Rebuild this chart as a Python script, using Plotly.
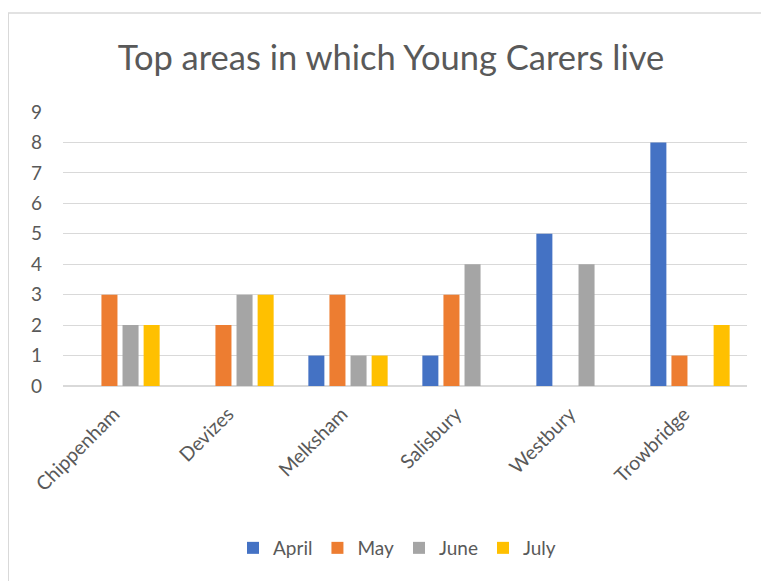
import plotly.graph_objects as go

categories = ["Chippenham", "Devizes", "Melksham", "Salisbury", "Westbury", "Trowbridge"]
april = [0, 0, 1, 1, 5, 8]
may = [3, 2, 3, 3, 0, 1]
june = [2, 3, 1, 4, 4, 0]
july = [2, 3, 1, 0, 0, 2]
series_names = ["April", "May", "June", "July"]
colors = ["#4472C4", "#ED7D31", "#A5A5A5", "#FFC000"]
y_ticks = [0, 1, 2, 3, 4, 5, 6, 7, 8, 9]

FONT = "Lato, Carlito, 'Open Sans', sans-serif"
TEXT = "#595959"

fig = go.Figure()
for name, vals, col in zip(series_names, [april, may, june, july], colors):
    fig.add_trace(go.Bar(x=categories, y=vals, name=name, marker_color=col,
                         marker_line_width=0))

# page body has an 8px margin; figure sized to fit the window
OFF = 8
W, H = 769 - OFF, 581 - OFF
L, R, T = 63 - OFF, 22, 112 - OFF
ph = 274
B = H - T - ph
pw = W - L - R

def px_to_paper_x(px):
    return (px - OFF - L) / pw

def px_to_paper_y(py):
    return (H - B - (py - OFF)) / ph

fig.update_layout(
    width=W, height=H,
    margin=dict(l=L, r=R, t=T, b=B, pad=0),
    paper_bgcolor="white", plot_bgcolor="white",
    barmode="group", bargap=0.26, bargroupgap=0.24,
    font=dict(family=FONT, color=TEXT, size=19),
    title=dict(text="Top areas in which Young Carers live",
               x=px_to_paper_x(391), xref="paper", xanchor="center",
               y=1 - (58 - OFF) / H, yanchor="middle",
               font=dict(family=FONT, size=34.5, color=TEXT)),
    legend=dict(orientation="h", x=px_to_paper_x(397), xanchor="center",
                y=px_to_paper_y(548), yanchor="middle",
                font=dict(family=FONT, size=19, color=TEXT),
                itemwidth=30, traceorder="normal"),
    xaxis=dict(tickangle=-45, showgrid=False, showline=False, ticks="",
               ticklabelstandoff=12, ticklabelshift=-6,
               tickfont=dict(family=FONT, size=19.5, color=TEXT)),
    yaxis=dict(range=[0, 9], tickvals=y_ticks, showgrid=True,
               gridcolor="#D9D9D9", gridwidth=1, zeroline=True,
               zerolinecolor="#D9D9D9", zerolinewidth=1.5, ticks="",
               ticklabelstandoff=20,
               tickfont=dict(family=FONT, size=19, color=TEXT)),
    shapes=[
        dict(type="line", xref="paper", yref="paper",
             x0=px_to_paper_x(OFF), x1=px_to_paper_x(OFF),
             y0=px_to_paper_y(13), y1=px_to_paper_y(700),
             line=dict(color="#D9D9D9", width=2)),
        dict(type="line", xref="paper", yref="paper",
             x0=px_to_paper_x(OFF), x1=px_to_paper_x(900),
             y0=px_to_paper_y(13), y1=px_to_paper_y(13),
             line=dict(color="#D9D9D9", width=1.5)),
    ],
)

fig.write_html("out.html")
